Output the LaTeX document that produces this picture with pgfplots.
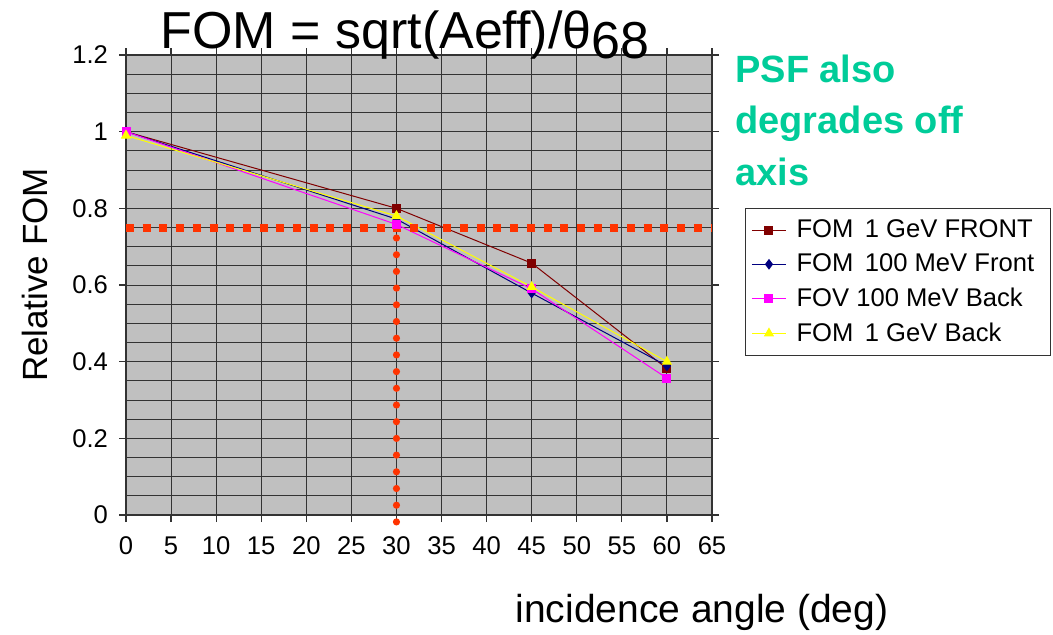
\documentclass[border=0pt]{standalone}
\usepackage{pgfplots}
\pgfplotsset{compat=1.18}
\usepackage{fontspec}
\setmainfont{Liberation Sans}
\definecolor{gridbg}{RGB}{192,192,192}
\definecolor{fomA}{RGB}{128,0,0}
\definecolor{fomB}{RGB}{0,0,128}
\definecolor{fomC}{RGB}{255,0,255}
\definecolor{fomD}{RGB}{255,255,0}
\definecolor{refred}{RGB}{255,51,0}
\definecolor{psf}{RGB}{0,204,153}
\begin{document}
\begin{tikzpicture}
\useasboundingbox (0,0) rectangle (526.5pt,317pt);
\begin{axis}[
  at={(63pt,59.5pt)}, anchor=south west,
  scale only axis, width=293pt, height=230pt,
  xmin=0, xmax=65, ymin=0, ymax=1.2,
  xtick={0,5,...,65},
  ytick={0,0.2,0.4,0.6,0.8,1.0,1.2},
  minor y tick num=3,
  grid=both,
  major grid style={black!80, line width=0.5pt},
  minor grid style={black!80, line width=0.5pt},
  axis background/.style={fill=gridbg},
  axis line style={black!80, line width=0.6pt},
  tick style={black!80, line width=0.6pt},
  tick align=outside,
  major tick length=3.5pt,
  minor tick length=0pt,
  clip=false,
  tick label style={font=\fontsize{12.8}{15}\selectfont},
  /pgf/number format/assume math mode=true,
  yticklabel style={/pgf/number format/fixed, xshift=-2pt},
  xticklabel style={yshift=-4pt},
  legend style={at={(1.056,0.667)}, anchor=north west,
    draw=black!80, line width=0.6pt,
    font=\fontsize{12.8}{15}\selectfont,
    nodes={inner xsep=5pt},
    inner xsep=3pt, inner ysep=3.5pt, row sep=2.6pt},
  legend cell align=left,
]
\addplot[fomA, line width=0.5pt, mark=square*, mark size=2pt] coordinates {(0,1) (30,0.80) (45,0.657) (60,0.382)};
\addlegendentry{FOM\, 1 GeV FRONT}
\addplot[fomB, line width=0.5pt, mark=diamond*, mark size=2.3pt] coordinates {(0,1) (30,0.772) (45,0.579) (60,0.389)};
\addlegendentry{FOM\, 100 MeV Front}
\addplot[fomC, line width=0.5pt, mark=square*, mark size=2pt] coordinates {(0,1) (30,0.758) (45,0.59) (60,0.357)};
\addlegendentry{FOV 100 MeV Back}
\addplot[fomD, line width=0.5pt, mark=triangle*, mark size=2.5pt] coordinates {(0,0.99) (30,0.78) (45,0.595) (60,0.40)};
\addlegendentry{FOM\, 1 GeV Back}
\draw[refred, line width=4pt, dash pattern=on 4pt off 4.35pt] (axis cs:0,0.75) -- (axis cs:65,0.75);
\draw[refred, line width=3.6pt, line cap=round, dash pattern=on 0pt off 8.35pt] (axis cs:30,-0.018) -- (axis cs:30,0.73);
\end{axis}
\node[anchor=base, font=\fontsize{26}{31}\selectfont] at (202.5pt,293pt) {FOM = sqrt(Aeff)/θ\raisebox{-0.4ex}{68}};
\node[rotate=90, font=\fontsize{17.5}{21}\selectfont] at (17.5pt,179.5pt) {Relative FOM};
\node[anchor=base, font=\fontsize{19.5}{23}\selectfont] at (351pt,6pt) {incidence angle (deg)};
\node[anchor=base west, inner sep=0pt, font=\bfseries\fontsize{19}{23}\selectfont, text=psf] at (367.5pt,276pt) {PSF also};
\node[anchor=base west, inner sep=0pt, font=\bfseries\fontsize{19}{23}\selectfont, text=psf] at (367.5pt,250.5pt) {degrades off};
\node[anchor=base west, inner sep=0pt, font=\bfseries\fontsize{19}{23}\selectfont, text=psf] at (367.5pt,224.5pt) {axis};
\end{tikzpicture}
\end{document}
